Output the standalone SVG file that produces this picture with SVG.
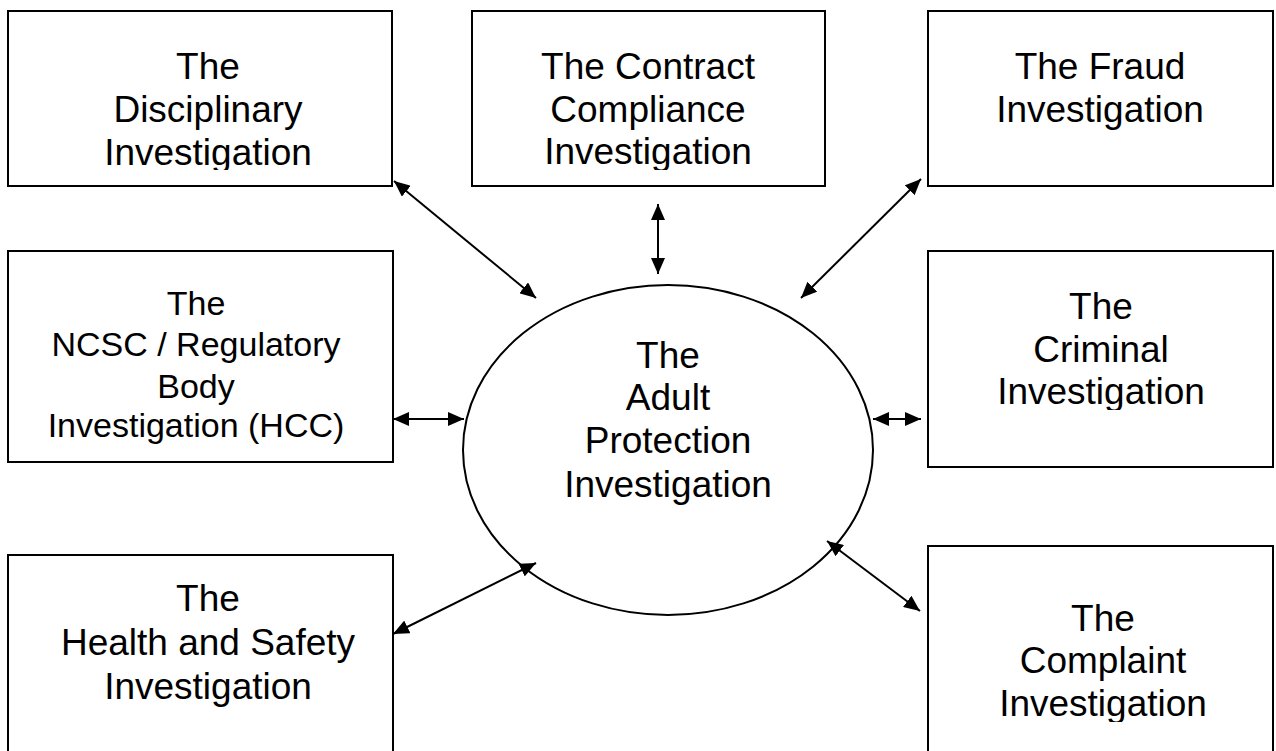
<svg xmlns="http://www.w3.org/2000/svg" width="1276" height="751" viewBox="0 0 1276 751">
<style>
.box{fill:#fff;stroke:#000;stroke-width:2}
.t{font-family:"Liberation Sans",Arial,sans-serif;font-size:37px;fill:#000;text-anchor:middle}
.t2{font-family:"Liberation Sans",Arial,sans-serif;font-size:34px;fill:#000;text-anchor:middle}
.c{stroke:#000;stroke-width:2;fill:none;marker-start:url(#ah);marker-end:url(#ah)}
</style>
<defs>
<marker id="ah" viewBox="0 0 16 14" refX="16" refY="7" markerUnits="userSpaceOnUse" markerWidth="16" markerHeight="14" orient="auto-start-reverse">
<path d="M0,0 L16,7 L0,14 z" fill="#000"/>
</marker>
<clipPath id="clipA"><rect x="0" y="0" width="1276" height="170"/></clipPath>
<clipPath id="clipB"><rect x="0" y="240" width="1276" height="170"/></clipPath>
<clipPath id="clipC"><rect x="0" y="540" width="1276" height="182"/></clipPath>
</defs>
<rect width="1276" height="751" fill="#fff"/>
<g id="disciplinary">
<rect class="box" x="8" y="11" width="384" height="175"/>
<g clip-path="url(#clipA)">
<text class="t" x="208" y="79">The</text>
<text class="t" x="208" y="122">Disciplinary</text>
<text class="t" x="208" y="165">Investigation</text>
</g>
</g>
<g id="contract">
<rect class="box" x="472" y="11" width="353" height="175"/>
<g clip-path="url(#clipA)">
<text class="t" x="648" y="79">The Contract</text>
<text class="t" x="648" y="122">Compliance</text>
<text class="t" x="648" y="164">Investigation</text>
</g>
</g>
<g id="fraud">
<rect class="box" x="928" y="11" width="345" height="175"/>
<text class="t" x="1100" y="79">The Fraud</text>
<text class="t" x="1100" y="122">Investigation</text>
</g>
<g id="ncsc">
<rect class="box" x="8" y="251" width="385" height="211"/>
<text class="t2" x="196" y="315">The</text>
<text class="t2" x="196" y="356">NCSC / Regulatory</text>
<text class="t2" x="196" y="398">Body</text>
<text class="t2" x="196" y="437">Investigation (HCC)</text>
</g>
<g id="criminal">
<rect class="box" x="928" y="251" width="345" height="216"/>
<g clip-path="url(#clipB)">
<text class="t" x="1101" y="319">The</text>
<text class="t" x="1101" y="362">Criminal</text>
<text class="t" x="1101" y="404">Investigation</text>
</g>
</g>
<g id="adult">
<ellipse cx="668" cy="450" rx="205" ry="165" fill="#fff" stroke="#000" stroke-width="2"/>
<text class="t" x="668" y="368">The</text>
<text class="t" x="668" y="410">Adult</text>
<text class="t" x="668" y="453">Protection</text>
<text class="t" x="668" y="497">Investigation</text>
</g>
<g id="health">
<rect class="box" x="8" y="555" width="385" height="210"/>
<text class="t" x="208" y="611">The</text>
<text class="t" x="208" y="655">Health and Safety</text>
<text class="t" x="208" y="699">Investigation</text>
</g>
<g id="complaint">
<rect class="box" x="928" y="546" width="345" height="220"/>
<g clip-path="url(#clipC)">
<text class="t" x="1103" y="631">The</text>
<text class="t" x="1103" y="673">Complaint</text>
<text class="t" x="1103" y="716">Investigation</text>
</g>
</g>
<g id="connectors">
<line class="c" x1="394" y1="181" x2="536" y2="298"/>
<line class="c" x1="658" y1="204" x2="658" y2="274"/>
<line class="c" x1="921" y1="179" x2="801" y2="298"/>
<line class="c" x1="393" y1="419" x2="464" y2="419"/>
<line class="c" x1="873" y1="419" x2="921" y2="419"/>
<line class="c" x1="393" y1="634" x2="536" y2="563"/>
<line class="c" x1="827" y1="541" x2="920" y2="611"/>
</g>
</svg>
